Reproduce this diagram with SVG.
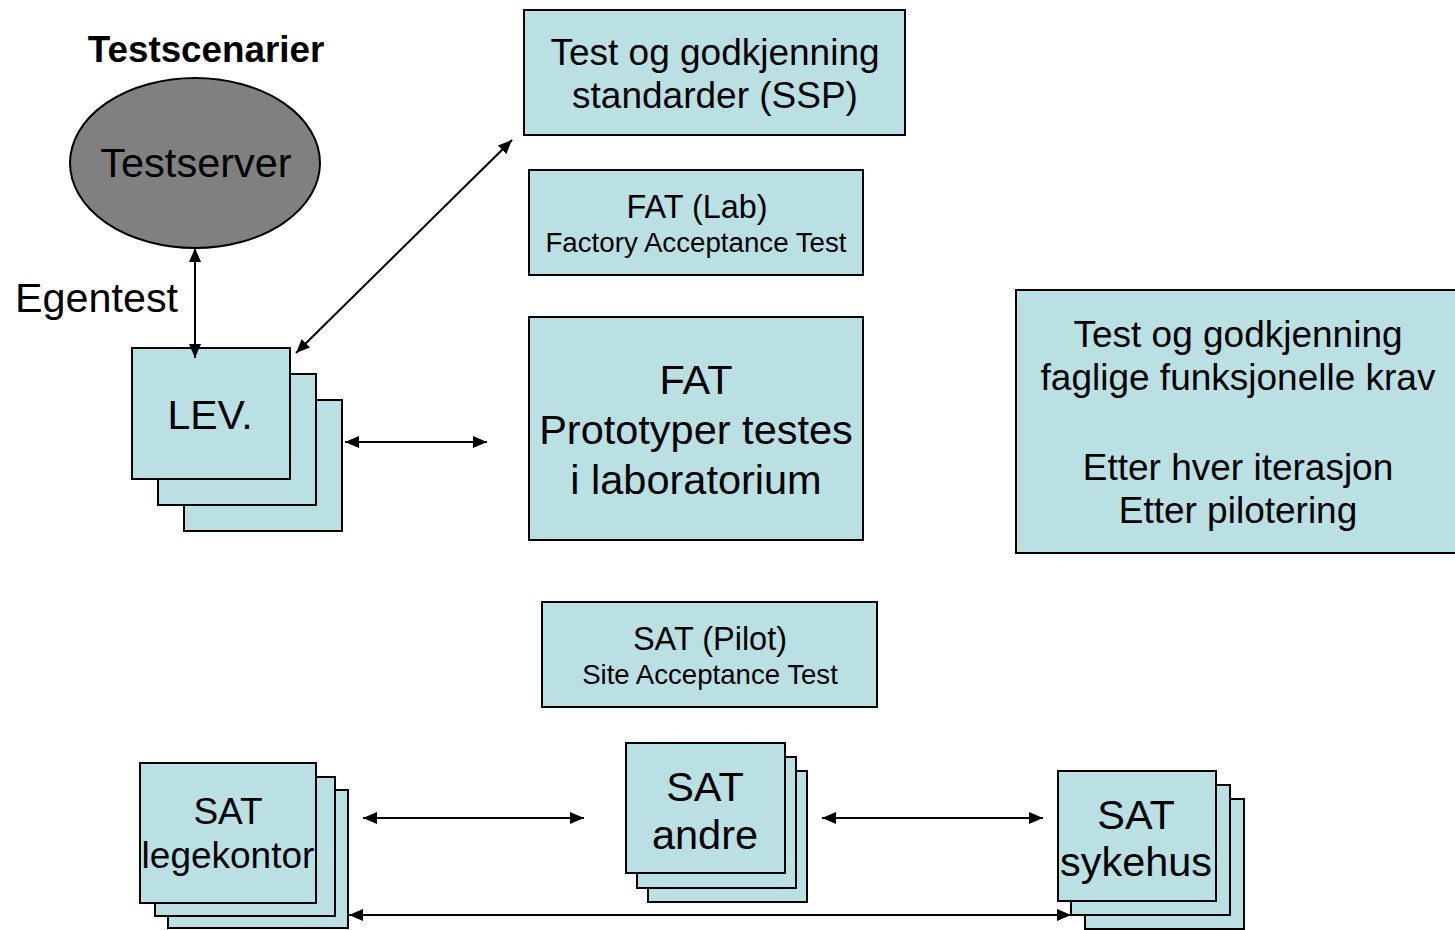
<svg xmlns="http://www.w3.org/2000/svg" width="1455" height="930" viewBox="0 0 1455 930">
<style>
  .box { fill: #BBE0E3; stroke: #000; stroke-width: 2; }
  .t { font-family: "Liberation Sans", Arial, sans-serif; fill: #000; text-anchor: middle; }
  .conn line { stroke: #000; stroke-width: 2; marker-start: url(#ah); marker-end: url(#ah); }
</style>
<defs>
  <marker id="ah" viewBox="0 0 14 12" refX="14" refY="6" markerWidth="14" markerHeight="12" markerUnits="userSpaceOnUse" orient="auto-start-reverse">
    <path d="M0,0 L14,6 L0,12 z" fill="#000"/>
  </marker>
</defs>
<rect width="1455" height="930" fill="#fff"/>

<g id="testscenarier">
  <text class="t" x="206" y="62" font-size="36.8" font-weight="bold">Testscenarier</text>
</g>

<g id="testserver">
  <ellipse cx="195" cy="163" rx="125" ry="85" fill="#808080" stroke="#000" stroke-width="2"/>
  <text class="t" x="196" y="177" font-size="41.5">Testserver</text>
</g>

<g id="egentest">
  <text x="15" y="312" font-size="41.3" font-family="Liberation Sans, Arial, sans-serif">Egentest</text>
</g>

<g id="lev">
  <rect class="box" x="184" y="400" width="158" height="131"/>
  <rect class="box" x="158" y="374" width="158" height="131"/>
  <rect class="box" x="132" y="348" width="158" height="131"/>
  <text class="t" x="210" y="429" font-size="41">LEV.</text>
</g>

<g id="ssp">
  <rect class="box" x="524" y="10" width="381" height="125"/>
  <text class="t" x="715" y="65" font-size="37">Test og godkjenning</text>
  <text class="t" x="715" y="108" font-size="37">standarder (SSP)</text>
</g>

<g id="fat-lab">
  <rect class="box" x="529" y="170" width="334" height="105"/>
  <text class="t" x="697" y="218" font-size="32.4">FAT (Lab)</text>
  <text class="t" x="696" y="252" font-size="27.7">Factory Acceptance Test</text>
</g>

<g id="fat">
  <rect class="box" x="529" y="317" width="334" height="223"/>
  <text class="t" x="696" y="394" font-size="41.5">FAT</text>
  <text class="t" x="696" y="444" font-size="41.5">Prototyper testes</text>
  <text class="t" x="696" y="494" font-size="41.5">i laboratorium</text>
</g>

<g id="faglige">
  <rect class="box" x="1016" y="290" width="445" height="263"/>
  <text class="t" x="1238" y="347" font-size="37">Test og godkjenning</text>
  <text class="t" x="1238" y="390" font-size="37">faglige funksjonelle krav</text>
  <text class="t" x="1238" y="480" font-size="37">Etter hver iterasjon</text>
  <text class="t" x="1238" y="523" font-size="37">Etter pilotering</text>
</g>

<g id="sat-pilot">
  <rect class="box" x="542" y="602" width="335" height="105"/>
  <text class="t" x="710" y="650" font-size="32.5">SAT (Pilot)</text>
  <text class="t" x="710" y="684" font-size="27.6">Site Acceptance Test</text>
</g>

<g id="sat-legekontor">
  <rect class="box" x="168" y="790" width="180" height="138"/>
  <rect class="box" x="155" y="777" width="180" height="139"/>
  <rect class="box" x="140" y="763" width="176" height="140"/>
  <text class="t" x="228" y="824" font-size="37">SAT</text>
  <text class="t" x="228" y="868" font-size="37">legekontor</text>
</g>

<g id="sat-andre">
  <rect class="box" x="648" y="771" width="159" height="131"/>
  <rect class="box" x="637" y="757" width="159" height="131"/>
  <rect class="box" x="626" y="743" width="159" height="130"/>
  <text class="t" x="705" y="801" font-size="41.5">SAT</text>
  <text class="t" x="705" y="849" font-size="41.5">andre</text>
</g>

<g id="sat-sykehus">
  <rect class="box" x="1085" y="799" width="159" height="130"/>
  <rect class="box" x="1071" y="785" width="159" height="130"/>
  <rect class="box" x="1058" y="771" width="158" height="130"/>
  <text class="t" x="1136" y="829" font-size="41.4">SAT</text>
  <text class="t" x="1136" y="876" font-size="41.4">sykehus</text>
</g>

<g id="connectors" class="conn">
  <line x1="195" y1="248" x2="195" y2="358"/>
  <line x1="296" y1="353" x2="512" y2="140"/>
  <line x1="345" y1="442" x2="487" y2="442"/>
  <line x1="363" y1="818" x2="584" y2="818"/>
  <line x1="822" y1="818" x2="1043" y2="818"/>
  <line x1="349" y1="915" x2="1071" y2="915"/>
</g>
</svg>
